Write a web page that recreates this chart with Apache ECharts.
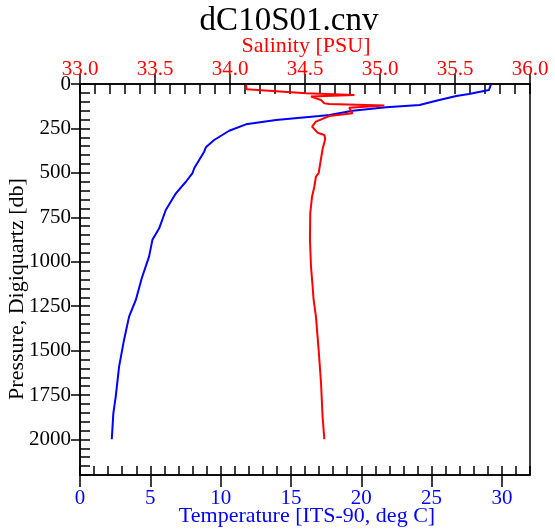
<!DOCTYPE html>
<html>
<head>
<meta charset="utf-8">
<script src="https://cdn.jsdelivr.net/npm/echarts@6/dist/echarts.min.js"></script>
<style>
  html, body { margin: 0; padding: 0; background: #fff; }
  #chart { width: 555px; height: 532px; }
</style>
</head>
<body>
<div id="chart"></div>
<script>
// CTD cast profile: temperature and salinity against pressure
const tempPressure = [3, 34, 56, 67, 94, 118, 131, 150, 174, 180, 202, 227, 263, 315, 325, 356, 381, 474, 502, 550, 615, 709, 812, 877, 971, 1093, 1215, 1309, 1440, 1590, 1759, 1853, 1999];
const temperature = [29.22, 29.08, 27.66, 26.76, 25.33, 24.15, 21.77, 19.39, 17.74, 17.02, 13.94, 11.80, 10.61, 9.54, 9.42, 8.95, 8.83, 8.12, 8.00, 7.53, 6.82, 6.10, 5.63, 5.15, 4.91, 4.39, 3.97, 3.49, 3.13, 2.78, 2.54, 2.37, 2.26];

const salPressure = [3, 30, 52, 62, 71, 90, 109, 112, 121, 134, 165, 180, 212, 240, 274, 287, 309, 367, 418, 502, 521, 578, 634, 727, 877, 1028, 1140, 1211, 1309, 1496, 1684, 1871, 1999];
const salinity = [34.107, 34.111, 34.507, 34.829, 34.540, 34.607, 34.629, 34.662, 35.029, 34.795, 34.817, 34.662, 34.573, 34.547, 34.584, 34.629, 34.635, 34.617, 34.607, 34.591, 34.573, 34.562, 34.547, 34.535, 34.533, 34.540, 34.551, 34.557, 34.573, 34.591, 34.607, 34.617, 34.629];

const pressureTicks = [0, 250, 500, 750, 1000, 1250, 1500, 1750, 2000];
const temperatureTicks = [0, 5, 10, 15, 20, 25, 30];
const salinityTicks = [33.0, 33.5, 34.0, 34.5, 35.0, 35.5, 36.0];

const titleText = 'dC10S01.cnv';
const salinityName = 'Salinity [PSU]';
const temperatureName = 'Temperature [ITS-90, deg C]';
const pressureName = 'Pressure, Digiquartz [db]';

const SERIF = '"Liberation Serif", "Times New Roman", serif';
const BLUE = '#0000ff';
const RED = '#ff0000';
const AXIS = { color: '#000', width: 1.5 };
const TICK_FONT = 21;

const tempData = tempPressure.map((p, i) => [temperature[i], p]);
const salData = salPressure.map((p, i) => [salinity[i], p]);

const chart = echarts.init(document.getElementById('chart'), null, { renderer: 'canvas' });

const hidden = { show: false };

function centeredText(text, x, y, size, color, rotation) {
  return {
    type: 'text', x: x, y: y, rotation: rotation || 0,
    style: {
      text: text, fill: color, font: size + 'px ' + SERIF,
      align: 'center', verticalAlign: 'middle', textAlign: 'center', textVerticalAlign: 'middle'
    }
  };
}

chart.setOption({
  animation: false,
  backgroundColor: '#fff',
  grid: {
    left: 80, right: 25, top: 84, bottom: 57,
    show: true, borderColor: '#000', borderWidth: 1.5, backgroundColor: 'transparent'
  },
  xAxis: [
    { // temperature scale, labels and outward major ticks
      type: 'value', position: 'bottom', min: 0, max: 32,
      axisLine: { show: true, onZero: false, lineStyle: AXIS },
      axisTick: { show: true, inside: false, length: 12, customValues: temperatureTicks, lineStyle: AXIS },
      axisLabel: { customValues: temperatureTicks, color: BLUE, fontFamily: SERIF, fontSize: TICK_FONT, margin: 13,
                   formatter: v => String(v) },
      splitLine: hidden
    },
    { // inward ticks every degree
      type: 'value', position: 'bottom', min: 0, max: 32, interval: 1,
      axisLine: { show: false, onZero: false },
      axisTick: { show: true, inside: true, length: 9, lineStyle: AXIS },
      axisLabel: hidden, splitLine: hidden
    },
    { // salinity scale on top
      type: 'value', position: 'top', min: 33, max: 36, interval: 0.5,
      axisLine: { show: true, onZero: false, lineStyle: AXIS },
      axisTick: { show: true, inside: false, length: 10, lineStyle: AXIS },
      axisLabel: { customValues: salinityTicks, color: RED, fontFamily: SERIF, fontSize: TICK_FONT, margin: 4,
                   formatter: v => v.toFixed(1) },
      splitLine: hidden
    },
    { // inward salinity ticks every 0.1
      type: 'value', position: 'top', min: 33, max: 36, interval: 0.1,
      axisLine: { show: false, onZero: false },
      axisTick: { show: true, inside: true, length: 10, lineStyle: AXIS },
      axisLabel: hidden, splitLine: hidden
    }
  ],
  yAxis: [
    { // pressure, increasing downwards
      type: 'value', position: 'left', inverse: true, min: 0, max: 2200,
      axisLine: { show: true, onZero: false, lineStyle: AXIS },
      axisTick: { show: true, inside: false, length: 9, customValues: pressureTicks, lineStyle: AXIS },
      axisLabel: { customValues: pressureTicks, color: '#000', fontFamily: SERIF, fontSize: TICK_FONT, margin: 9,
                   formatter: v => String(v) },
      splitLine: hidden
    },
    { // inward ticks every 50 db
      type: 'value', position: 'left', inverse: true, min: 0, max: 2200, interval: 50,
      axisLine: { show: false, onZero: false },
      axisTick: { show: true, inside: true, length: 10, lineStyle: AXIS },
      axisLabel: hidden, splitLine: hidden
    }
  ],
  series: [
    {
      name: 'Temperature', type: 'line', xAxisIndex: 0, yAxisIndex: 0,
      data: tempData, showSymbol: false, symbol: 'none',
      lineStyle: { color: BLUE, width: 2 }, itemStyle: { color: BLUE }
    },
    {
      name: 'Salinity', type: 'line', xAxisIndex: 2, yAxisIndex: 0,
      data: salData, showSymbol: false, symbol: 'none',
      lineStyle: { color: RED, width: 2 }, itemStyle: { color: RED }
    }
  ],
  graphic: [
    centeredText(titleText, 289, 21, 33, '#000'),
    centeredText(salinityName, 306, 46, 22, RED),
    centeredText(temperatureName, 307, 516, 22, BLUE),
    centeredText(pressureName, 17, 289, 22, '#000', Math.PI / 2)
  ]
});
</script>
</body>
</html>
